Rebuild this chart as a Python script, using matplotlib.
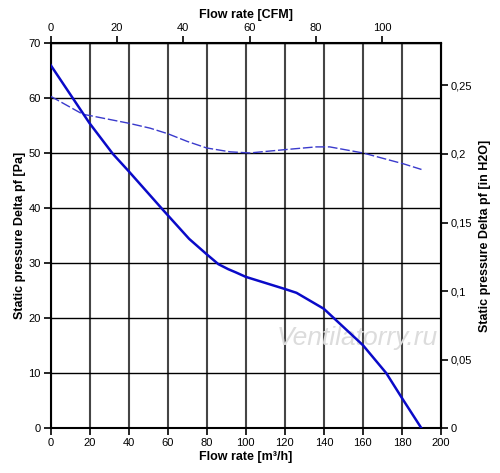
import numpy as np
import matplotlib
matplotlib.use("Agg")
import matplotlib.pyplot as plt
from matplotlib.ticker import FuncFormatter


# ==========================================================
# DONNÉES
# ==========================================================

# courbe pleine (pression statique)
flow_solid = [0, 20, 32, 40, 58, 71, 80, 86, 91, 95, 100, 120, 126, 140, 160, 172, 180, 190]
press_solid = [66.0, 55.4, 49.8, 46.7, 39.5, 34.4, 31.6, 29.8, 28.9, 28.3, 27.5, 25.3,
               24.6, 21.7, 15.1, 10.0, 5.5, 0.0]

# courbe pointillée
flow_dash = [0, 16.7, 20, 40, 51, 60, 70, 80, 92, 102, 120, 136, 143, 160, 181, 190]
press_dash = [60.3, 57.0, 56.8, 55.4, 54.5, 53.5, 52.1, 50.9, 50.2, 50.0, 50.6,
              51.1, 51.1, 50.0, 48.0, 47.0]

x_ticks = [0, 20, 40, 60, 80, 100, 120, 140, 160, 180, 200]
y_ticks = [0, 10, 20, 30, 40, 50, 60, 70]
cfm_ticks = [0, 20, 40, 60, 80, 100]
inh2o_ticks = [0, 0.05, 0.1, 0.15, 0.2, 0.25]

M3H_PER_CFM = 1.699
PA_PER_INH2O = 249.09


def m3h_to_cfm(x):
    return np.asarray(x) / M3H_PER_CFM


def cfm_to_m3h(x):
    return np.asarray(x) * M3H_PER_CFM


def pa_to_inh2o(y):
    return np.asarray(y) / PA_PER_INH2O


def inh2o_to_pa(y):
    return np.asarray(y) * PA_PER_INH2O


def virgule(v, pos):
    if v == 0:
        return "0"
    return f"{v:g}".replace(".", ",")


# ==========================================================
# FIGURE
# ==========================================================

plt.rcParams["font.family"] = ["Liberation Sans", "DejaVu Sans"]

fig = plt.figure(figsize=(5.0, 4.73), dpi=100)
ax = fig.add_axes([0.101, 0.0945, 0.781, 0.815])

ax.plot(flow_dash, press_dash, color="#3a3acc", linewidth=1.0,
        dashes=(7, 2), zorder=3)
ax.plot(flow_solid, press_solid, color="#0a0ac8", linewidth=1.8, zorder=4)

ax.set_xlim(0, 200)
ax.set_ylim(0, 70)
ax.set_xticks(x_ticks)
ax.set_yticks(y_ticks)

ax.xaxis.grid(True, color="#454545", linewidth=1.5)
ax.yaxis.grid(True, color="black", linewidth=1.0)
ax.set_axisbelow(True)

for side in ax.spines.values():
    side.set_linewidth(1.5)
    side.set_color("black")

ax.tick_params(direction="out", length=5, width=1.2, labelsize=8, pad=2)
ax.set_xlabel("Flow rate [m³/h]", fontsize=9, fontweight="bold", labelpad=2)
ax.set_ylabel("Static pressure Delta pf [Pa]", fontsize=9, fontweight="bold",
              labelpad=2)

# axe du haut en CFM
top = ax.secondary_xaxis("top", functions=(m3h_to_cfm, cfm_to_m3h))
top.set_xticks(cfm_ticks)
top.tick_params(direction="out", length=5, width=1.2, labelsize=8, pad=2)
top.set_xlabel("Flow rate [CFM]", fontsize=9, fontweight="bold", labelpad=4)

# axe de droite en in H2O
right = ax.secondary_yaxis("right", functions=(pa_to_inh2o, inh2o_to_pa))
right.set_yticks(inh2o_ticks)
right.yaxis.set_major_formatter(FuncFormatter(virgule))
right.tick_params(direction="out", length=5, width=1.2, labelsize=8, pad=2)
right.set_ylabel("Static pressure Delta pf [in H2O]", fontsize=9,
                 fontweight="bold", labelpad=5)

# filigrane
ax.text(0.785, 0.235, "Ventilatorry.ru", transform=ax.transAxes,
        fontsize=19, style="italic", color="#dcdcdc", ha="center",
        va="center", zorder=2)

fig.savefig("out.png", dpi=100)
